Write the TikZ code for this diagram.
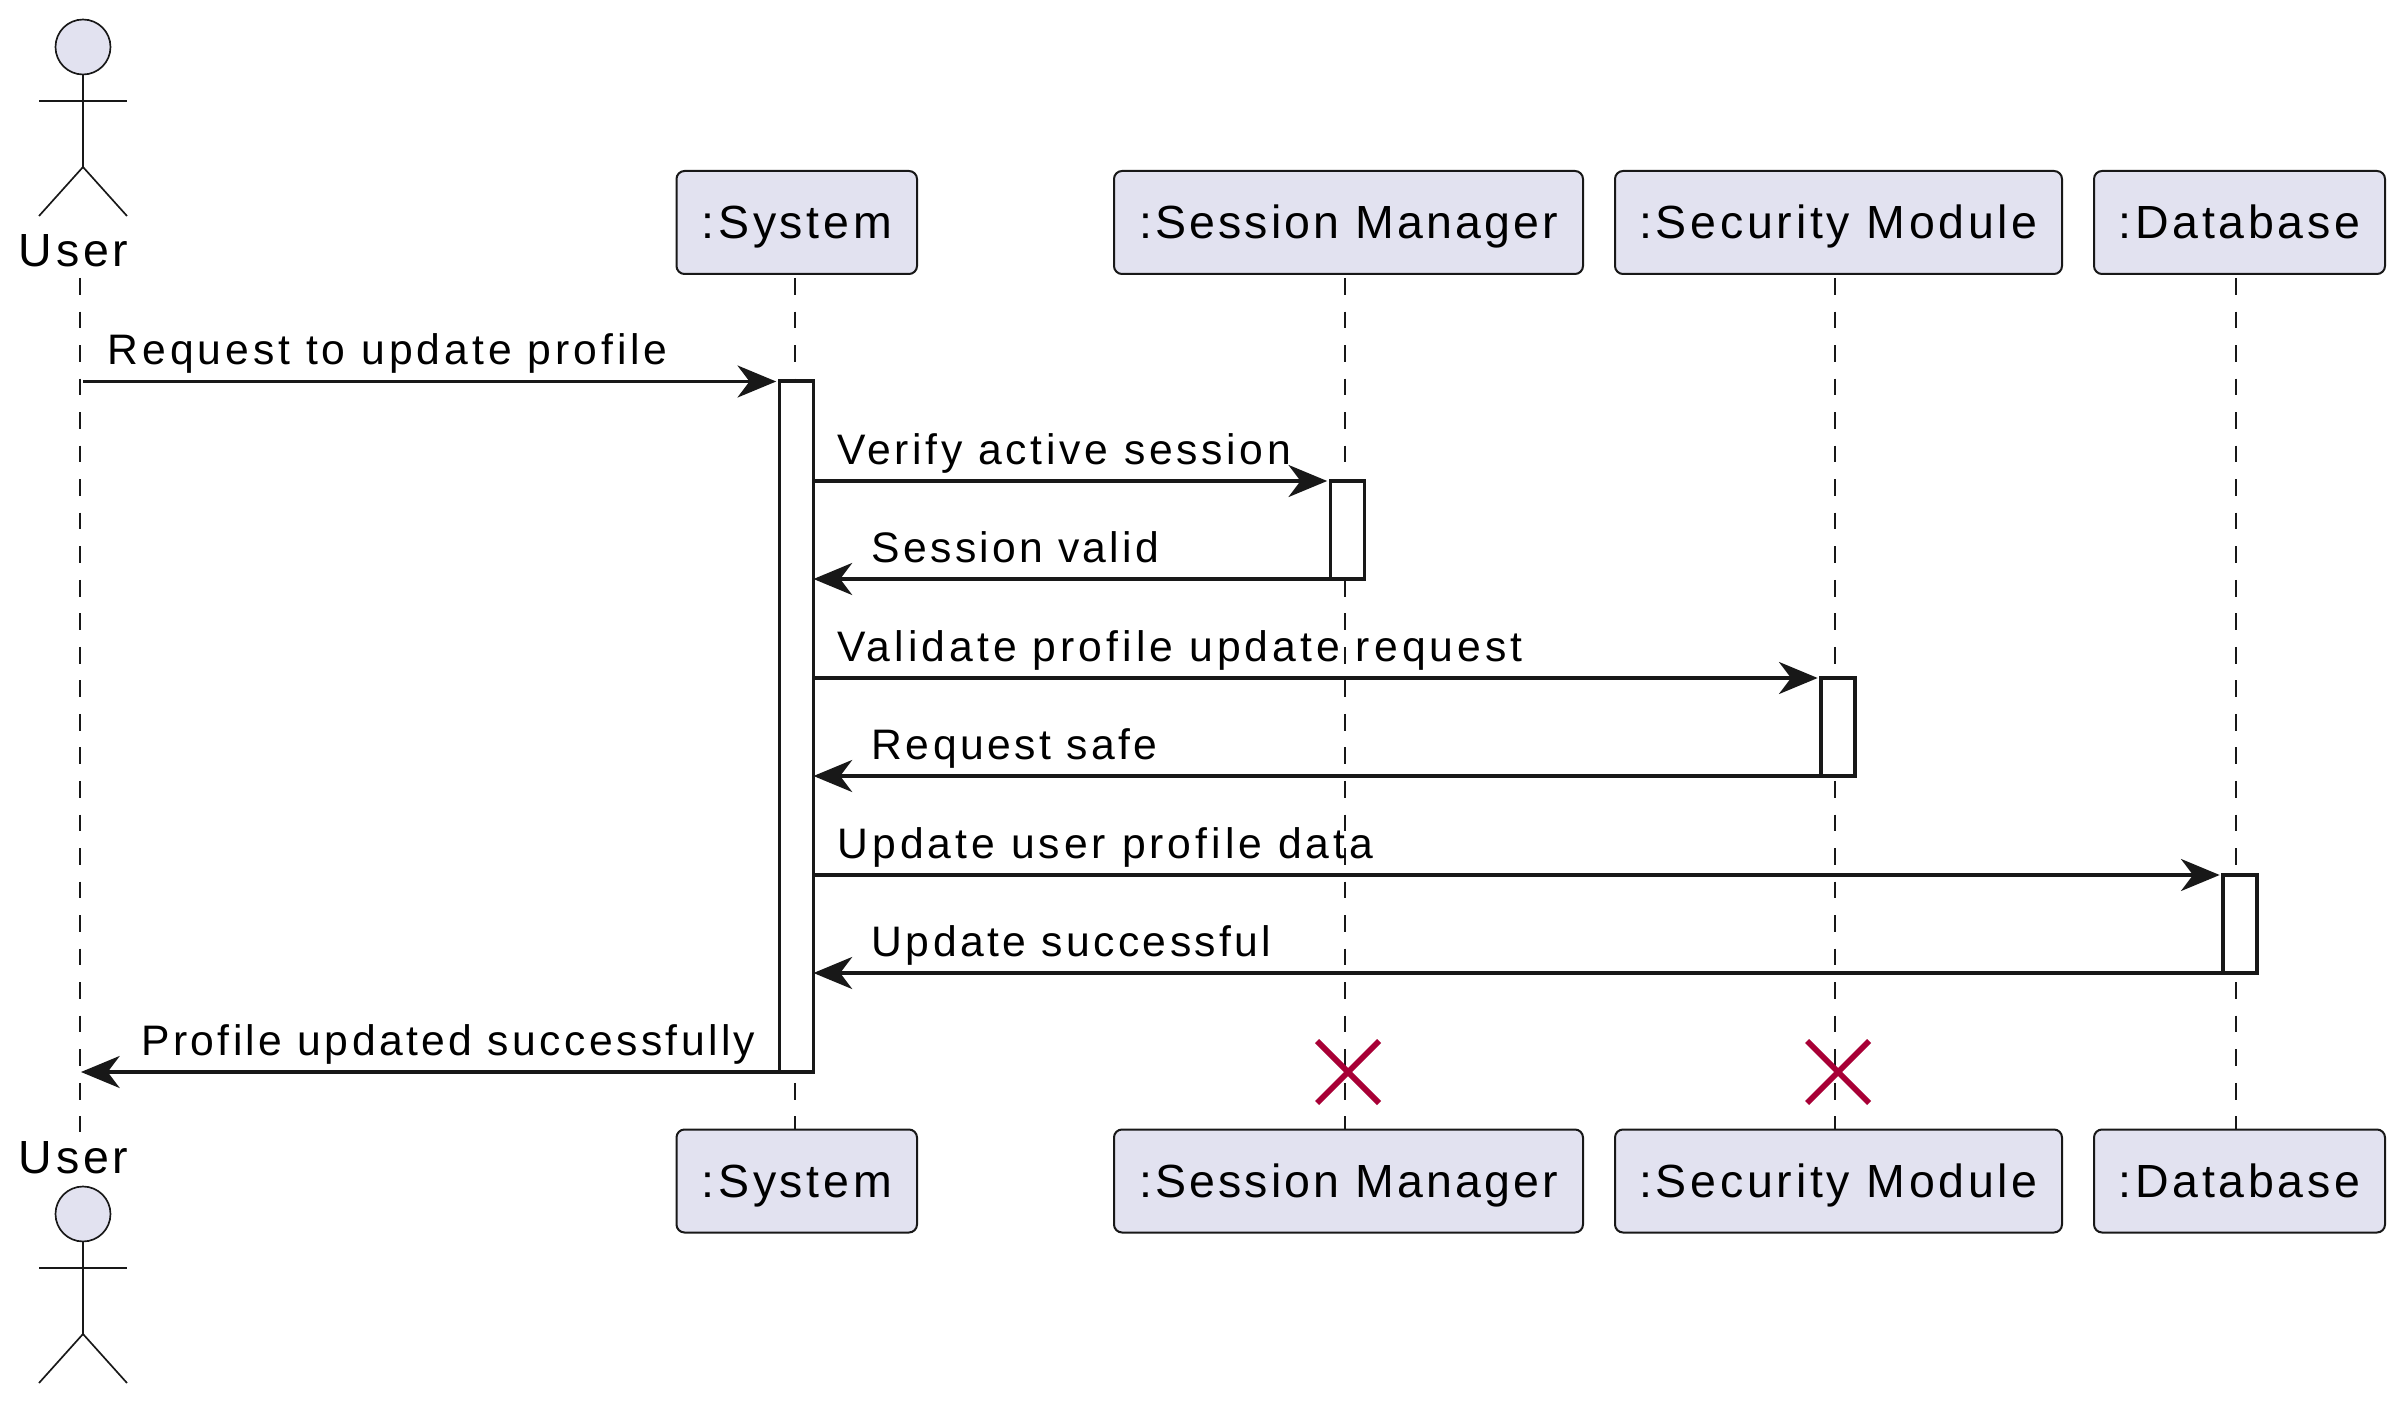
\documentclass[tikz,border=0pt]{standalone}
\usepackage{fontspec}
\setmainfont[LetterSpace=8]{Liberation Sans}
\usetikzlibrary{arrows.meta,calc}
\definecolor{ink}{HTML}{181818}
\definecolor{pfill}{HTML}{E2E2F0}
\definecolor{kill}{HTML}{A80036}
\newcommand{\spc}[1]{\addfontfeature{LetterSpace=#1}}
\tikzset{
  part/.style={draw=ink,fill=pfill,line width=0.6pt,rounded corners=2.4pt,outer sep=0pt,inner sep=0pt,
    minimum height=30.9pt,font=\fontsize{13.95pt}{16pt}\selectfont,text=black,text height=12.4pt,text depth=2.5pt},
  head/.style={circle,draw=ink,fill=pfill,line width=0.5pt,minimum size=16.5pt,inner sep=0pt,outer sep=0pt},
  limb/.style={draw=ink,line width=0.5pt},
  actorname/.style={anchor=base,inner sep=0pt,font=\fontsize{13.95pt}{16pt}\selectfont,text=black},
  life/.style={draw=ink,line width=0.5pt,dash pattern=on 5.03pt off 5.03pt},
  act/.style={rectangle,draw=ink,fill=white,line width=1pt,outer sep=0pt,inner sep=0pt,minimum width=10.2pt},
  msg/.style={draw=ink,line width=1pt,-{Stealth[length=11.6pt,width=9.6pt,inset=3.6pt]}},
  lbl/.style={anchor=base west,inner sep=0pt,font=\fontsize{12.8pt}{15pt}\selectfont,text=black},
  cross/.style={draw=kill,line width=1.7pt},
}
\begin{document}
\begin{tikzpicture}[x=0.3pt,y=-0.3pt]
\path[use as bounding box,fill=white] (0,0) rectangle (2400,1404);
% participants
\node[part,minimum width=72.15pt] (sysT) at (796.75,222.5) {:System};
\node[part,minimum width=140.7pt] (sesT) at (1348.5,222.5) {\spc{6.7}:Session Manager};
\node[part,minimum width=134.1pt] (secT) at (1838.5,222.5) {:Security Module};
\node[part,minimum width=87.3pt] (dbT) at (2239.5,222.5) {:Database};
\node[part,minimum width=72.15pt] (sysB) at (796.75,1181) {:System};
\node[part,minimum width=140.7pt] (sesB) at (1348.5,1181) {\spc{6.7}:Session Manager};
\node[part,minimum width=134.1pt] (secB) at (1838.5,1181) {:Security Module};
\node[part,minimum width=87.3pt] (dbB) at (2239.5,1181) {:Database};
% actors
\node[head] (uhT) at (83,47) {};
\coordinate (uaT) at (83,101);
\coordinate (uhipT) at (83,167);
\draw[limb] (uhT.south) -- (uhipT);
\draw[limb] ($(uaT)+(-44,0)$) -- ($(uaT)+(44,0)$);
\draw[limb] ($(uhipT)+(-44,49)$) -- (uhipT) -- ($(uhipT)+(44,49)$);
\node[actorname] (unT) at (73.5,266.5) {User};
\node[head] (uhB) at (83,1214) {};
\coordinate (uaB) at (83,1268);
\coordinate (uhipB) at (83,1334);
\draw[limb] (uhB.south) -- (uhipB);
\draw[limb] ($(uaB)+(-44,0)$) -- ($(uaB)+(44,0)$);
\draw[limb] ($(uhipB)+(-44,49)$) -- (uhipB) -- ($(uhipB)+(44,49)$);
\node[actorname] (unB) at (73.5,1173.5) {User};
% lifelines
\coordinate (lu) at (80,278);
\coordinate (lub) at (80,1132);
\draw[life] (lu) -- (lub);
\draw[life] (795,278) coordinate (lsys) -- (lsys |- sysB.north);
\draw[life] (1345,278) coordinate (lses) -- (lses |- sesB.north);
\draw[life] (1835,278) coordinate (lsec) -- (lsec |- secB.north);
\draw[life] (2236,278) coordinate (ldb) -- (ldb |- dbB.north);
% activations
\node[act,minimum height=207.3pt] (asys) at (796.5,726.5) {};
\node[act,minimum height=29.4pt] (ases) at (1347.5,530) {};
\node[act,minimum height=29.4pt] (asec) at (1838,727) {};
\node[act,minimum height=29.4pt] (adb) at (2240,924) {};
% message levels
\coordinate (y1) at (0,381.5);
\coordinate (y2) at (0,481);
\coordinate (y3) at (0,579);
\coordinate (y4) at (0,678);
\coordinate (y5) at (0,776);
\coordinate (y6) at (0,875);
\coordinate (y7) at (0,973);
\coordinate (y8) at (0,1072);
\coordinate (ustart) at (83,381.5);
\coordinate (uend) at (81,1072);
% messages
\draw[msg,shorten >=1pt] (ustart) -- (asys.west |- y1);
\draw[msg,shorten >=1pt] (asys.east |- y2) -- (ases.west |- y2);
\draw[msg] (ases.west |- y3) -- (asys.east |- y3);
\draw[msg,shorten >=1pt] (asys.east |- y4) -- (asec.west |- y4);
\draw[msg] (asec.west |- y5) -- (asys.east |- y5);
\draw[msg,shorten >=1pt] (asys.east |- y6) -- (adb.west |- y6);
\draw[msg] (adb.west |- y7) -- (asys.east |- y7);
\draw[msg] (asys.west |- y8) -- (uend);
% labels
\node[lbl] (l1) at (107,365) {\spc{9.3}Request to update profile};
\node[lbl] (l2) at (837,464) {\spc{8.7}Verify active session};
\node[lbl] (l3) at (871,562) {\spc{7.7}Session valid};
\node[lbl] (l4) at (837,661) {\spc{9.5}Validate profile update request};
\node[lbl] (l5) at (871,759) {Request safe};
\node[lbl] (l6) at (837,858) {\spc{9.4}Update user profile data};
\node[lbl] (l7) at (871,956) {Update successful};
\node[lbl] (l8) at (140.5,1055) {Profile updated successfully};
% destroy marks
\coordinate (x1) at (1348,1072);
\coordinate (x2) at (1838,1072);
\draw[cross] ($(x1)+(-31,-31)$) -- ($(x1)+(31,31)$);
\draw[cross] ($(x1)+(-31,31)$) -- ($(x1)+(31,-31)$);
\draw[cross] ($(x2)+(-31,-31)$) -- ($(x2)+(31,31)$);
\draw[cross] ($(x2)+(-31,31)$) -- ($(x2)+(31,-31)$);
\end{tikzpicture}
\end{document}
